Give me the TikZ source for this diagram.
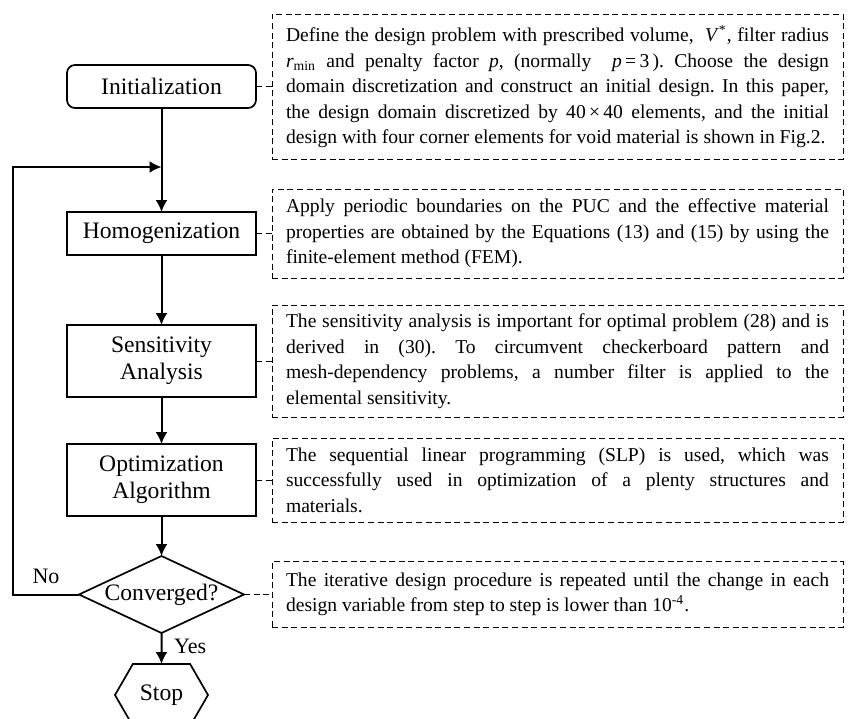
\documentclass[tikz,border=0pt]{standalone}
\usepackage{fontspec}
\setmainfont{Liberation Serif}
\usepackage{tikz}
\usetikzlibrary{arrows.meta}
\usetikzlibrary{positioning}
\usetikzlibrary{shapes.geometric,shapes.symbols}
\frenchspacing

\begin{document}
\begin{tikzpicture}[
    x=0.5pt,y=-0.5pt, % one unit = one pixel of the page, y going down
    outer sep=0pt,node distance=0pt,
    flowbox/.style={draw,line width=0.85pt,rectangle,align=center,inner sep=0pt,
                    minimum width=94.5pt,font=\fontsize{11.8pt}{13.5pt}\selectfont},
    notebox/.style={draw,line width=0.5pt,dash pattern=on 3pt off 1.8pt,rectangle,
                    text width=271.5pt,align=justify,inner xsep=7pt,inner ysep=0pt,
                    font=\fontsize{9.8pt}{12.75pt}\selectfont},
    flowarrow/.style={-{Latex[length=6pt,width=6pt]},line width=1pt},
    notelink/.style={line width=0.5pt,dash pattern=on 3pt off 1.8pt},
    ]
    \useasboundingbox (0,0) rectangle (848,719);

    \node (init)  at (161.5,86.5)          [flowbox,rounded corners=4pt,minimum height=21.5pt] {Initialization};
    \node (homog) [below=52pt of init]     [flowbox,minimum height=21.5pt] {Homogenization};
    \node (sens)  [below=35pt of homog]    [flowbox,minimum height=36pt] {Sensitivity\\Analysis};
    \node (optim) [below=23.5pt of sens]   [flowbox,minimum height=36pt] {Optimization\\Algorithm};
    \node (conv)  [below=20pt of optim]    [draw,line width=0.85pt,diamond,aspect=2.14,inner sep=0pt,
                                            minimum width=82.5pt,minimum height=38.5pt,
                                            font=\fontsize{11.8pt}{13.5pt}\selectfont] {Converged?};
    \node (stop)  [below=15.5pt of conv]   [draw,line width=0.85pt,signal,signal to=east and west,
                                            signal pointer angle=120,inner sep=0pt,
                                            minimum width=46.5pt,minimum height=31pt,
                                            font=\fontsize{11.8pt}{13.5pt}\selectfont] {Stop};

    \node (initnote)  [right=8pt of init]  [notebox,minimum height=72.5pt]
      {Define the design problem with prescribed volume,\ \ \textit{V}\textsuperscript{*}, filter radius\linebreak
       \textit{r}\textsubscript{min} and penalty factor \textit{p}, (normally\ \ \textit{p}\,=\,3\,). Choose the design\linebreak
       domain discretization and construct an initial design. In this paper,\linebreak
       the design domain discretized by 40\,×\,40 elements, and the initial\linebreak
       design with four corner elements for void material is shown in Fig.2.};
    \node (homognote) [right=8pt of homog] [notebox,minimum height=44.5pt]
      {Apply periodic boundaries on the PUC and the effective material\linebreak
       properties are obtained by the Equations (13) and (15) by using the\linebreak
       finite-element method (FEM).};
    \node (sensnote)  [right=8pt of sens]  [notebox,minimum height=56pt]
      {The sensitivity analysis is important for optimal problem (28) and is\linebreak
       derived in (30). To circumvent checkerboard pattern and\linebreak
       mesh-dependency problems, a number filter is applied to the\linebreak
       elemental sensitivity.};
    \node (optimnote) [right=8pt of optim] [notebox,minimum height=42pt]
      {The sequential linear programming (SLP) is used, which was\linebreak
       successfully used in optimization of a plenty structures and\linebreak
       materials.};
    \node (convnote)  at (optimnote.west |- conv) [anchor=west,notebox,minimum height=33pt]
      {The iterative design procedure is repeated until the change in each\linebreak
       design variable from step to step is lower than 10\textsuperscript{-4}.};

    \draw [flowarrow] (init)  -- (homog);
    \draw [flowarrow] (homog) -- (sens);
    \draw [flowarrow] (sens)  -- (optim);
    \draw [flowarrow] (optim) -- (conv);
    \draw [flowarrow] (conv)  -- (stop) node [midway,right,xshift=3pt,yshift=1pt,font=\fontsize{11pt}{13pt}\selectfont] {Yes};

    \coordinate (loop) at (13,167); % where the way back turns right
    \draw [flowarrow] (conv.west) -| (loop) node [pos=0.25,above=2pt,font=\fontsize{11pt}{13pt}\selectfont] {No}
                      -- (loop -| init.south);

    \draw [notelink] (init)  -- (initnote);
    \draw [notelink] (homog) -- (homognote);
    \draw [notelink] (sens)  -- (sensnote);
    \draw [notelink] (optim) -- (optimnote);
    \draw [notelink] (conv)  -- (convnote);
  \end{tikzpicture}
\end{document}
